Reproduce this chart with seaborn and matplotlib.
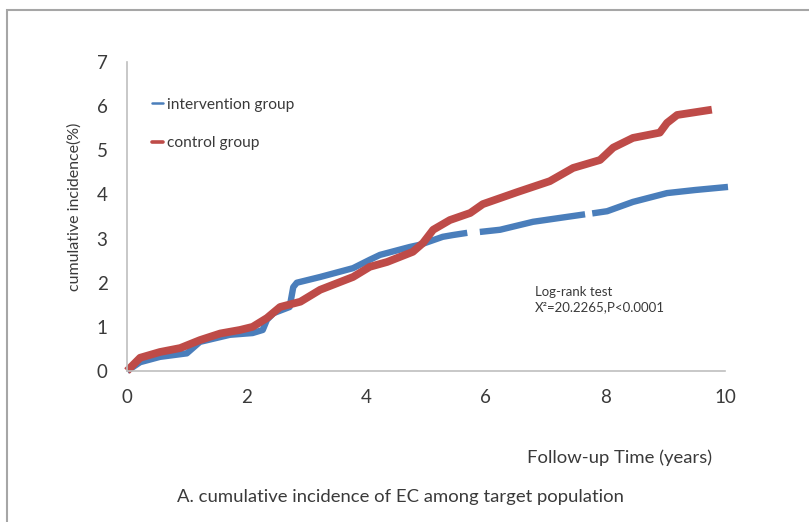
import numpy as np
import pandas as pd
import matplotlib
matplotlib.use("Agg")
import matplotlib.pyplot as plt
from matplotlib.lines import Line2D
from matplotlib.patches import Rectangle
import seaborn as sns

# ---- data ----
blue_seg1_x = [0, 0.22, 0.55, 1.0, 1.22, 1.72, 2.1, 2.27, 2.34, 2.45, 2.72, 2.78, 2.84,
               3.23, 3.78, 4.06, 4.23, 4.73, 4.9, 5.28, 5.45, 5.69]
blue_seg1_y = [0, 0.2, 0.32, 0.4, 0.66, 0.82, 0.86, 0.93, 1.16, 1.31, 1.45, 1.9, 2.0,
               2.13, 2.33, 2.52, 2.63, 2.81, 2.86, 3.04, 3.08, 3.13]
blue_seg2_x = [5.9, 6.24, 6.79, 7.3, 7.66]
blue_seg2_y = [3.15, 3.2, 3.38, 3.48, 3.55]
blue_seg3_x = [7.78, 8.03, 8.46, 9.03, 9.5, 10.05]
blue_seg3_y = [3.57, 3.62, 3.83, 4.03, 4.1, 4.17]

red_x = [0, 0.22, 0.55, 0.89, 1.22, 1.56, 1.89, 2.1, 2.34, 2.56, 2.9, 3.23, 3.78, 4.06,
         4.35, 4.78, 4.95, 5.12, 5.4, 5.74, 5.95, 6.52, 7.07, 7.46, 7.91, 8.13, 8.46,
         8.91, 9.03, 9.2, 9.78]
red_y = [0, 0.3, 0.43, 0.52, 0.7, 0.85, 0.93, 1.0, 1.2, 1.45, 1.57, 1.84, 2.13, 2.36,
         2.47, 2.7, 2.9, 3.2, 3.42, 3.58, 3.78, 4.05, 4.3, 4.6, 4.78, 5.06, 5.28,
         5.4, 5.62, 5.8, 5.92]

groups = ["intervention group", "control group"]
x_ticks = [0, 2, 4, 6, 8, 10]
y_ticks = [0, 1, 2, 3, 4, 5, 6, 7]
stat_lines = ["Log-rank test", "X²=20.2265,P<0.0001"]

BLUE = "#4A7EBB"
RED = "#BE4B48"
TXT = "#3A3A3A"

rows = []
for seg, (xs, ys) in enumerate([(blue_seg1_x, blue_seg1_y), (blue_seg2_x, blue_seg2_y),
                                 (blue_seg3_x, blue_seg3_y)]):
    for x, y in zip(xs, ys):
        rows.append(dict(t=x, inc=y, group=groups[0], seg=f"b{seg}"))
for x, y in zip(red_x, red_y):
    rows.append(dict(t=x, inc=y, group=groups[1], seg="r0"))
df = pd.DataFrame(rows)

sns.set_style("white")
plt.rcParams["font.family"] = ["Lato", "DejaVu Sans"]

fig = plt.figure(figsize=(8.09, 5.22), dpi=100)
ax = fig.add_axes([127 / 809, 1 - 371 / 522, (725 - 127) / 809, (371 - 62) / 522])

sns.lineplot(data=df[df.group == groups[0]], x="t", y="inc", units="seg", estimator=None,
             color=BLUE, linewidth=4.6, ax=ax, legend=False, sort=False)
sns.lineplot(data=df[df.group == groups[1]], x="t", y="inc", units="seg", estimator=None,
             color=RED, linewidth=5.6, ax=ax, legend=False, sort=False)
for ln in ax.lines:
    ln.set_clip_on(False)
    ln.set_solid_capstyle("butt")

ax.set_xlim(0, 10)
ax.set_ylim(0, 7)
ax.set_xticks(x_ticks)
ax.set_yticks(y_ticks)
ax.tick_params(axis="both", length=0, labelsize=13.5, labelcolor=TXT)
ax.tick_params(axis="x", pad=13)
ax.tick_params(axis="y", pad=14)
ax.set_xlabel("")
ax.set_ylabel("")
for s in ["top", "right"]:
    ax.spines[s].set_visible(False)
for s in ["left", "bottom"]:
    ax.spines[s].set_color("#BFBFBF")
    ax.spines[s].set_linewidth(1.2)

handles = [Line2D([0], [0], color=BLUE, lw=1.8), Line2D([0], [0], color=RED, lw=2.6)]
ax.legend(handles, groups, loc="upper left", bbox_to_anchor=(0.031, 0.905), frameon=False,
          fontsize=11.2, handlelength=0.75, handletextpad=0.25, labelspacing=1.6,
          labelcolor=TXT, borderaxespad=0)

fig.text(535 / 809, 1 - 292 / 522, stat_lines[0], fontsize=9.5, color=TXT,
         ha="left", va="center")
fig.text(535 / 809, 1 - 307 / 522, stat_lines[1], fontsize=9.5, color=TXT,
         ha="left", va="center")

fig.text(75 / 809, 1 - 207 / 522, "cumulative incidence(%)", rotation=90, fontsize=11.5,
         color=TXT, ha="center", va="center")
fig.text(620 / 809, 1 - 458 / 522, "Follow-up Time (years)", fontsize=13.3,
         color=TXT, ha="center", va="center")
fig.text(400 / 809, 1 - 497 / 522, "A. cumulative incidence of EC among target population",
         fontsize=13.3, color=TXT, ha="center", va="center")

fig.patches.append(Rectangle((7 / 809, -0.2), 1.2, 1 - 10 / 522 + 0.2,
                             transform=fig.transFigure, fill=False,
                             edgecolor="#A6A6A6", linewidth=1.5))

fig.savefig("out.png", dpi=100)
